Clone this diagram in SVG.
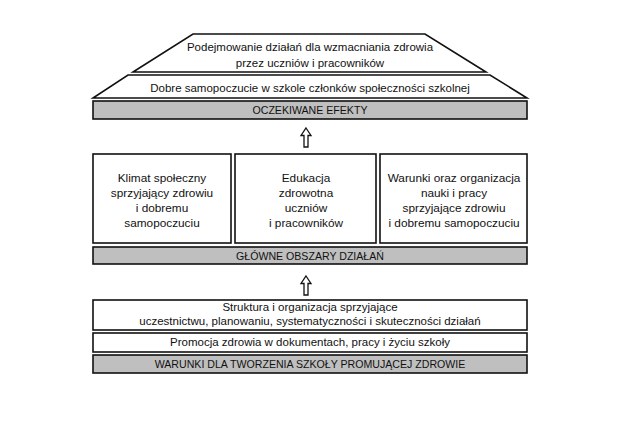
<svg xmlns="http://www.w3.org/2000/svg" width="622" height="438" viewBox="0 0 622 438">
<style>
.s{fill:#fff;stroke:#111;stroke-width:1.6}
.g{fill:#bfbfbf;stroke:#111;stroke-width:1.6}
.a{fill:#fff;stroke:#111;stroke-width:1.3}
text{font-family:"Liberation Sans",Arial,sans-serif;font-size:11.5px;fill:#111;text-anchor:middle}
.b{font-size:11.8px}
.c{font-size:10.6px}
</style>
<defs>
<path id="arr" d="M0,0 L5,7.5 L2,7.5 L2,19 L-2,19 L-2,7.5 L-5,7.5 Z"/>
</defs>
<rect width="622" height="438" fill="#fff"/>
<g id="trap-top">
<polygon class="s" points="193,34 425,34 486,72 133,72"/>
<text x="310" y="51">Podejmowanie  działań  dla  wzmacniania  zdrowia</text>
<text x="310" y="67">przez uczniów i pracowników</text>
</g>
<g id="trap-mid">
<polygon class="s" points="128,75 490,75 527,98 93,98"/>
<text x="310" y="92">Dobre samopoczucie w szkole członków społeczności szkolnej</text>
</g>
<g id="efekty">
<rect class="g" x="93" y="101" width="434" height="18"/>
<text class="c" x="310" y="114">OCZEKIWANE  EFEKTY</text>
</g>
<g id="box1">
<rect class="s" x="93" y="154" width="138" height="89"/>
<text class="b" x="162" y="182">Klimat społeczny</text>
<text class="b" x="162" y="197">sprzyjający zdrowiu</text>
<text class="b" x="162" y="212">i dobremu</text>
<text class="b" x="162" y="227">samopoczuciu</text>
</g>
<g id="box2">
<rect class="s" x="235" y="154" width="141" height="89"/>
<text class="b" x="306" y="182">Edukacja</text>
<text class="b" x="306" y="197">zdrowotna</text>
<text class="b" x="306" y="212">uczniów</text>
<text class="b" x="306" y="227">i pracowników</text>
</g>
<g id="box3">
<rect class="s" x="380" y="154" width="147" height="89"/>
<text class="b" x="454" y="182">Warunki oraz organizacja</text>
<text class="b" x="454" y="197">nauki i pracy</text>
<text class="b" x="454" y="212">sprzyjające zdrowiu</text>
<text class="b" x="454" y="227">i dobremu samopoczuciu</text>
</g>
<g id="obszary">
<rect class="g" x="93" y="247" width="434" height="17"/>
<text class="c" x="310" y="260">GŁÓWNE OBSZARY DZIAŁAŃ</text>
</g>
<g id="struktura">
<rect class="s" x="93" y="300" width="434" height="30"/>
<text x="310" y="311">Struktura  i organizacja sprzyjające</text>
<text x="310" y="325">uczestnictwu, planowaniu, systematyczności i skuteczności działań</text>
</g>
<g id="promocja">
<rect class="s" x="93" y="333" width="434" height="19"/>
<text x="310" y="346">Promocja zdrowia w dokumentach, pracy i życiu szkoły</text>
</g>
<g id="warunki">
<rect class="g" x="93" y="355" width="434" height="18"/>
<text class="c" x="310" y="368">WARUNKI  DLA TWORZENIA SZKOŁY PROMUJĄCEJ  ZDROWIE</text>
</g>
<g id="connectors">
<use href="#arr" class="a" x="306" y="128"/>
<use href="#arr" class="a" x="306" y="276"/>
</g>
</svg>
